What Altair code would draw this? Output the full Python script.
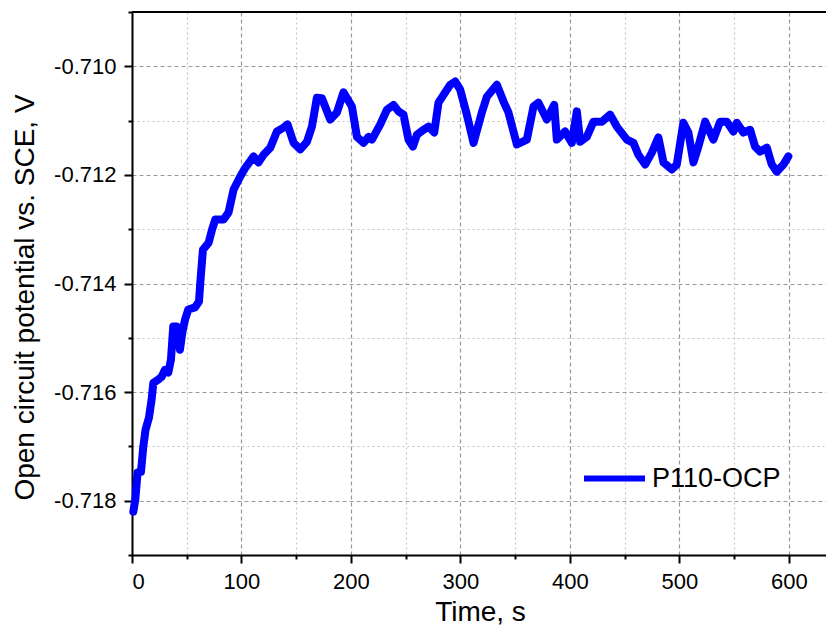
import altair as alt
import pandas as pd

# Time, s
time_s = [1.2, 3.0, 5.1, 8.2, 10.3, 12.4, 15.5, 17.9, 19.5, 24.0,
          27.0, 30.1, 33.2, 35.6, 37.7, 40.7, 43.8, 45.9, 48.4, 51.4,
          57.5, 61.2, 62.4, 64.8, 70.0, 73.1, 76.1, 83.7, 88.2, 92.8,
          98.9, 103.5, 111.1, 115.6, 120.2, 126.3, 132.4, 138.4, 142.1, 147.6,
          153.7, 159.8, 164.4, 168.9, 173.5, 181.1, 187.2, 193.2, 200.9, 205.5,
          211.5, 216.1, 219.2, 226.8, 232.9, 238.9, 243.5, 248.0, 252.6, 256.6,
          260.3, 266.3, 270.9, 276.1, 280.0, 286.1, 290.7, 295.3, 299.8, 305.9,
          312.0, 319.6, 324.2, 333.3, 339.4, 343.9, 351.6, 360.7, 366.8, 371.3,
          379.0, 385.7, 388.1, 395.7, 401.8, 406.4, 409.4, 415.5, 421.6, 429.2,
          436.8, 442.9, 452.1, 458.1, 462.6, 468.8, 474.9, 480.9, 485.5, 493.2,
          497.7, 503.7, 508.3, 512.9, 517.4, 523.6, 531.1, 537.3, 543.4, 549.4,
          552.5, 558.5, 564.7, 569.2, 573.8, 579.9, 584.5, 589.0, 595.1, 599.6]

# Open circuit potential vs. SCE, V
potential_v = [-0.71820, -0.71798, -0.71748, -0.71747, -0.71701, -0.71669, -0.71647, -0.71614, -0.71583, -0.71577,
               -0.71572, -0.71559, -0.71564, -0.71540, -0.71479, -0.71479, -0.71522, -0.71491, -0.71467, -0.71448,
               -0.71444, -0.71433, -0.71398, -0.71338, -0.71325, -0.71301, -0.71282, -0.71282, -0.71269, -0.71227,
               -0.71203, -0.71187, -0.71166, -0.71177, -0.71163, -0.71150, -0.71120, -0.71113, -0.71107, -0.71141,
               -0.71153, -0.71139, -0.71111, -0.71058, -0.71059, -0.71098, -0.71085, -0.71048, -0.71074, -0.71130,
               -0.71141, -0.71130, -0.71135, -0.71107, -0.71080, -0.71071, -0.71083, -0.71089, -0.71135, -0.71148,
               -0.71126, -0.71117, -0.71111, -0.71122, -0.71067, -0.71048, -0.71034, -0.71028, -0.71043, -0.71089,
               -0.71141, -0.71085, -0.71056, -0.71034, -0.71065, -0.71085, -0.71144, -0.71135, -0.71074, -0.71067,
               -0.71098, -0.71071, -0.71135, -0.71120, -0.71141, -0.71083, -0.71139, -0.71130, -0.71102, -0.71102,
               -0.71089, -0.71111, -0.71135, -0.71141, -0.71163, -0.71181, -0.71159, -0.71131, -0.71177, -0.71190,
               -0.71181, -0.71104, -0.71122, -0.71177, -0.71148, -0.71102, -0.71135, -0.71102, -0.71102, -0.71120,
               -0.71104, -0.71122, -0.71117, -0.71148, -0.71157, -0.71150, -0.71181, -0.71194, -0.71181, -0.71166]

series_name = "P110-OCP"

x_major = [0, 100, 200, 300, 400, 500, 600]
x_minor = [50, 150, 250, 350, 450, 550]
y_major = [-0.718, -0.716, -0.714, -0.712, -0.710]
y_minor = [-0.719, -0.717, -0.715, -0.713, -0.711, -0.709]

x_domain = [0, 634]
y_domain = [-0.719, -0.709]

df = pd.DataFrame({"t": time_s, "v": potential_v, "series": series_name})

FONT = "Liberation Sans"

xs = alt.Scale(domain=x_domain, nice=False, zero=False)
ys = alt.Scale(domain=y_domain, nice=False, zero=False)

minor_x_axis = alt.Axis(orient="bottom", values=x_minor, labels=False, domain=False,
                        ticks=True, tickSize=4, tickWidth=2, tickColor="black",
                        grid=True, gridColor="#c4c4c4", gridDash=[2, 3], gridWidth=1.2,
                        title=None)
minor_y_axis = alt.Axis(orient="left", values=y_minor, labels=False, domain=False,
                        ticks=True, tickSize=4, tickWidth=2, tickColor="black",
                        grid=True, gridColor="#c4c4c4", gridDash=[2, 3], gridWidth=1.2,
                        title=None)

major_x_axis = alt.Axis(orient="bottom", values=x_major, format="d",
                        domain=True, domainColor="black", domainWidth=2,
                        ticks=True, tickSize=8, tickWidth=2, tickColor="black",
                        grid=True, gridColor="#999999", gridDash=[4, 3], gridWidth=1.2,
                        labelFont=FONT, labelFontSize=22, labelColor="black", labelPadding=8,
                        title="Time, s", titleFont=FONT, titleFontSize=28, titleFontWeight="normal",
                        titleColor="black", titleX=348, titleY=65, titleBaseline="alphabetic",
                        titleAnchor="start", titleAlign="center")
major_y_axis = alt.Axis(orient="left", values=y_major,
                        labelExpr="'-' + format(abs(datum.value), '.3f')",
                        domain=True, domainColor="black", domainWidth=2,
                        ticks=True, tickSize=8, tickWidth=2, tickColor="black",
                        grid=True, gridColor="#999999", gridDash=[4, 3], gridWidth=1.2,
                        labelFont=FONT, labelFontSize=22, labelColor="black", labelPadding=8,
                        title="Open circuit potential vs. SCE, V", titleFont=FONT, titleFontSize=28,
                        titleFontWeight="normal", titleColor="black",
                        titleX=-107, titleY=285, titleBaseline="middle", titleAlign="center",
                        titleAngle=270)

minor_layer = alt.Chart(df).mark_line(opacity=0).encode(
    x=alt.X("t:Q", scale=xs, axis=minor_x_axis),
    y=alt.Y("v:Q", scale=ys, axis=minor_y_axis),
)

line_layer = alt.Chart(df).mark_line(strokeWidth=8, strokeCap="round", strokeJoin="round").encode(
    x=alt.X("t:Q", scale=xs, axis=major_x_axis),
    y=alt.Y("v:Q", scale=ys, axis=major_y_axis),
    color=alt.Color("series:N", scale=alt.Scale(range=["#0000ff"]),
                    legend=alt.Legend(orient="none", legendX=449, legendY=433, title=None,
                                      symbolType="stroke", symbolSize=3721, symbolStrokeWidth=6,
                                      labelFont=FONT, labelFontSize=27, labelColor="black",
                                      labelOffset=4, padding=0)),
)

top_frame = alt.Chart(df).mark_rule(color="black", strokeWidth=2).encode(
    y=alt.YDatum(y_domain[1], scale=ys, axis=None),
)

chart = alt.layer(minor_layer, line_layer, top_frame).resolve_axis(
    x="independent", y="independent"
).properties(
    width=694, height=543,
    padding={"left": 124, "top": 4, "right": 0, "bottom": 73},
    autosize=alt.AutoSizeParams(type="none"),
).configure_view(stroke=None).configure(background="white")

chart.save("out.html", embed_options={"renderer": "svg", "actions": False})
